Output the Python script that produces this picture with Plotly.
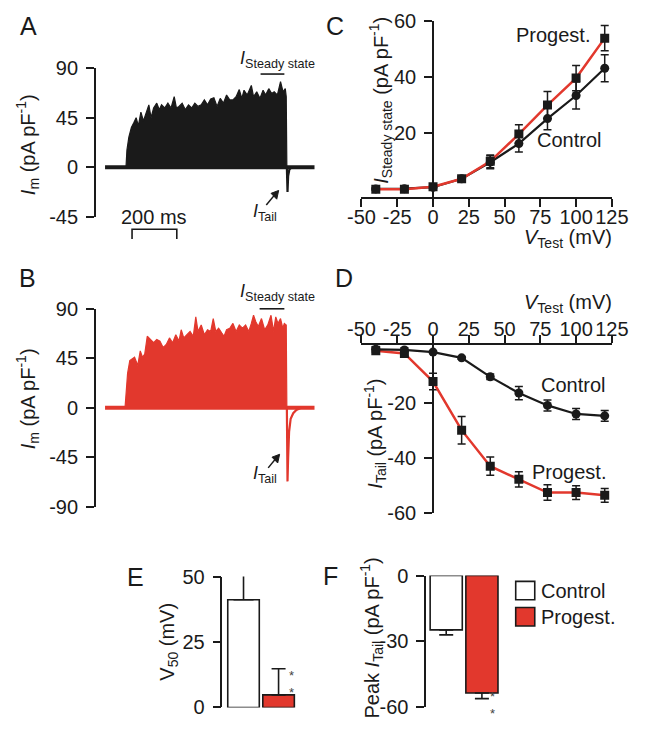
import plotly.graph_objects as go

W, H = 646, 733
RED = '#e2382d'
INK = '#1a1a1a'
FONT = 'Liberation Sans, Arial, sans-serif'

# ---------------- data ----------------
# Panel A (control) current trace: upper envelope of the superimposed sweeps (ms, pA/pF)
a_t = [93.6, 97.8, 106.4, 117.7, 129.0, 139.0, 148.9, 160.2, 171.6, 181.5, 195.7, 205.6, 217.0,
       231.1, 242.5, 252.4, 266.6, 280.8, 294.9, 309.1, 319.1, 330.4, 344.6, 358.8, 373.0, 387.1,
       401.3, 415.5, 429.7, 443.8, 458.0, 472.2, 486.4, 500.6, 514.7, 528.9, 543.1, 557.3, 571.5,
       585.6, 599.8, 611.2, 621.1, 635.3, 653.7, 663.6, 677.8, 692.0, 706.2, 717.5, 731.7, 744.5,
       755.8, 770.0, 784.2, 795.5, 805.4, 809.7, 812.5]
a_env = [0, 15.6, 27.3, 36.2, 40.6, 45.0, 37.6, 50.0, 42.0, 47.9, 56.7, 45.0, 53.8,
         58.2, 52.3, 56.7, 53.8, 58.2, 53.8, 64.1, 53.8, 55.3, 58.2, 52.3, 56.7, 53.8,
         58.2, 55.3, 56.7, 61.2, 56.7, 62.0, 63.2, 55.3, 62.6, 58.2, 65.6, 61.2, 61.2,
         64.1, 70.6, 62.6, 70.0, 65.6, 74.4, 64.1, 68.5, 62.6, 70.0, 65.6, 71.4, 67.0,
         68.5, 65.6, 77.9, 68.5, 71.4, 64.1, 0]
a_tail_t = [812.5, 815.4, 818.2, 823.9, 833.8]
a_tail_v = [0, -22.6, -8.0, -2.0, 0]

# Panel B (progesterone) current trace envelope
b_t = [89.3, 93.6, 100.7, 110.6, 120.5, 131.9, 146.1, 157.4, 167.3, 177.3, 188.6, 202.8, 217.0,
       231.1, 245.3, 259.5, 273.7, 287.9, 302.0, 316.2, 330.4, 340.3, 351.7, 365.8, 380.0, 394.2,
       405.5, 415.5, 429.7, 443.8, 458.0, 472.2, 483.5, 494.9, 507.6, 521.8, 531.7, 543.1, 557.3,
       571.5, 585.6, 599.8, 614.0, 628.2, 642.3, 653.7, 663.6, 673.6, 684.9, 699.1, 713.3, 727.4,
       741.6, 753.0, 762.9, 772.8, 784.2, 794.1, 801.2, 809.7, 812.5]
b_env = [0, 16.5, 31.2, 42.9, 44.4, 45.9, 38.5, 51.7, 45.9, 48.8, 65.0, 62.0, 59.1,
         62.0, 60.6, 54.7, 57.6, 63.5, 59.1, 66.4, 60.6, 70.9, 63.5, 66.4, 69.4, 65.0,
         82.6, 69.4, 75.3, 66.4, 70.9, 69.4, 81.1, 69.4, 72.3, 67.9, 65.0, 70.9, 72.3,
         76.7, 69.4, 75.3, 72.3, 75.3, 69.4, 76.7, 84.1, 78.2, 73.8, 81.1, 70.9, 75.3,
         84.1, 69.4, 82.6, 76.7, 81.1, 72.3, 76.7, 75.3, 0]
b_tail_t = [812.5, 815.4, 818.2, 822.4, 829.5, 840.9, 855.0, 876.3]
b_tail_v = [0, -67.0, -45.0, -22.0, -10.0, -5.0, -2.0, 0]
sweep_end_ms = 936

# Panels C and D
v_test = [-40, -20, 0, 20, 40, 60, 80, 100, 120]
c_ctrl = [0.2, 0.3, 0.8, 3.8, 9.7, 16.3, 25.2, 33.4, 43.1]
c_ctrl_se = [0.3, 0.3, 0.4, 0.8, 2.3, 3.0, 4.0, 4.8, 4.8]
c_prog = [0.1, 0.1, 1.0, 3.8, 10.0, 19.7, 30.0, 39.6, 53.8]
c_prog_se = [0.3, 0.3, 0.5, 0.8, 2.3, 3.3, 4.8, 4.5, 4.5]

d_ctrl = [-0.3, -0.5, -1.3, -3.4, -10.3, -16.2, -20.7, -23.8, -24.5]
d_ctrl_se = [1.0, 0.8, 0.5, 0.5, 1.0, 2.4, 2.0, 2.0, 2.0]
d_prog = [-0.8, -1.8, -12.0, -29.7, -42.8, -47.6, -52.4, -52.4, -53.4]
d_prog_se = [0.5, 1.0, 3.0, 5.0, 3.3, 2.8, 2.8, 2.5, 2.5]

# Panels E and F
groups = ['Control', 'Progest.']
v50 = [41.1, 4.8]
v50_se = [12.6, 10.0]
peak_tail = [-24.7, -53.4]
peak_tail_se = [2.3, 2.6]

# tick values
ab_ticks_a = [-45, 0, 45, 90]
ab_ticks_b = [-90, -45, 0, 45, 90]
v_ticks = [-50, -25, 0, 25, 50, 75, 100, 125]
c_ticks = [20, 40, 60]
d_ticks = [-60, -40, -20]
e_ticks = [0, 25, 50]
f_ticks = [-60, -30, 0]


# ---------------- helpers ----------------
def px(x):
    return x / W


def py(y):
    return 1 - y / H


def lab(vals):
    return [str(v) for v in vals]  # plain hyphen-minus like the original


annotations = []
shapes = []


def ann(x, y, text, size=20, xanchor='center', yanchor='middle', angle=0, color=INK):
    annotations.append(dict(x=px(x), y=py(y), xref='paper', yref='paper', text=text,
                            showarrow=False, xanchor=xanchor, yanchor=yanchor, borderpad=0,
                            textangle=angle, font=dict(family=FONT, size=size, color=color)))


def hline(x0, x1, y, width=1.6):
    shapes.append(dict(type='line', xref='paper', yref='paper', x0=px(x0), x1=px(x1),
                       y0=py(y), y1=py(y), line=dict(color=INK, width=width)))


fig = go.Figure()

# ---------------- traces A & B ----------------
for xa, ya, t, env, tt, tv, col in [('x', 'y', a_t, a_env, a_tail_t, a_tail_v, INK),
                                    ('x2', 'y2', b_t, b_env, b_tail_t, b_tail_v, RED)]:
    fig.add_trace(go.Scatter(x=[0, sweep_end_ms], y=[0, 0], mode='lines', xaxis=xa, yaxis=ya,
                             line=dict(color=col, width=4), hoverinfo='skip'))
    fig.add_trace(go.Scatter(x=t, y=env, mode='lines', fill='tozeroy', fillcolor=col,
                             xaxis=xa, yaxis=ya, line=dict(color=col, width=1.2), hoverinfo='skip'))
    fig.add_trace(go.Scatter(x=tt, y=tv, mode='lines', xaxis=xa, yaxis=ya,
                             line=dict(color=col, width=2.2), hoverinfo='skip'))

# ---------------- C ----------------
fig.add_trace(go.Scatter(x=v_test, y=c_ctrl, mode='lines+markers', xaxis='x3', yaxis='y3',
                         line=dict(color=INK, width=2.2),
                         marker=dict(symbol='circle', size=9, color=INK),
                         error_y=dict(type='data', array=c_ctrl_se, color=INK, thickness=1.5, width=4)))
fig.add_trace(go.Scatter(x=v_test, y=c_prog, mode='lines+markers', xaxis='x3', yaxis='y3',
                         line=dict(color=RED, width=2.5),
                         marker=dict(symbol='square', size=9, color=INK),
                         error_y=dict(type='data', array=c_prog_se, color=INK, thickness=1.5, width=4)))

# ---------------- D ----------------
fig.add_trace(go.Scatter(x=v_test, y=d_prog, mode='lines+markers', xaxis='x4', yaxis='y4',
                         line=dict(color=RED, width=2.5),
                         marker=dict(symbol='square', size=9, color=INK),
                         error_y=dict(type='data', array=d_prog_se, color=INK, thickness=1.5, width=4)))
fig.add_trace(go.Scatter(x=v_test, y=d_ctrl, mode='lines+markers', xaxis='x4', yaxis='y4',
                         line=dict(color=INK, width=2.2),
                         marker=dict(symbol='circle', size=9, color=INK),
                         error_y=dict(type='data', array=d_ctrl_se, color=INK, thickness=1.5, width=4)))

# ---------------- E & F bars ----------------
bar_fill = ['white', RED]
cap_w = [10, 7]
for i in range(2):
    fig.add_trace(go.Bar(x=[i], y=[v50[i]], xaxis='x5', yaxis='y5', width=0.9,
                         marker=dict(color=bar_fill[i], line=dict(color=INK, width=1.6)),
                         error_y=dict(type='data', array=[v50_se[i]], arrayminus=[0], symmetric=False,
                                      color=INK, thickness=1.6, width=cap_w[i])))
    fig.add_trace(go.Bar(x=[i], y=[peak_tail[i]], xaxis='x6', yaxis='y6', width=0.9,
                         marker=dict(color=bar_fill[i], line=dict(color=INK, width=1.6)),
                         error_y=dict(type='data', array=[0], arrayminus=[peak_tail_se[i]], symmetric=False,
                                      color=INK, thickness=1.6, width=7)))

# ---------------- axes ----------------
tickfont = dict(family=FONT, size=20, color=INK)
common_y = dict(showline=True, linecolor=INK, linewidth=1.6, ticks='outside', ticklen=8,
                tickwidth=1.6, tickcolor=INK, tickfont=tickfont, showgrid=False, zeroline=False,
                ticklabelstandoff=4, tickmode='array')
hidden_x = dict(visible=False, showgrid=False, zeroline=False)

# A / B : time axis hidden
t_range = [-41, 946]
lay = dict(
    xaxis=dict(domain=[px(86), px(318)], range=t_range, anchor='y', **hidden_x),
    yaxis=dict(domain=[py(212), py(59)], range=[-45, 90], tickvals=ab_ticks_a, ticktext=lab(ab_ticks_a),
               anchor='x', **common_y),
    xaxis2=dict(domain=[px(86), px(318)], range=t_range, anchor='y2', **hidden_x),
    yaxis2=dict(domain=[py(511), py(307)], range=[-90, 90], tickvals=ab_ticks_b, ticktext=lab(ab_ticks_b),
                anchor='x2', **common_y),
)

# C / D voltage axes
v_range = [-50, 125]
vx0, vx1 = 365, 628
zero_pos = px(vx0 + (0 - v_range[0]) / (v_range[1] - v_range[0]) * (vx1 - vx0))
common_x = dict(showline=True, linecolor=INK, linewidth=1.6, ticks='outside', ticklen=8,
                tickwidth=1.6, tickcolor=INK, tickfont=tickfont, showgrid=False, zeroline=False,
                range=v_range, tickmode='array', tickvals=v_ticks, ticktext=lab(v_ticks),
                tickangle=0)
lay.update(
    xaxis3=dict(domain=[px(vx0), px(vx1)], anchor='y3', ticklabelstandoff=-7, **common_x),
    yaxis3=dict(domain=[py(192), py(10)], range=[-2.76, 60], tickvals=c_ticks, ticktext=lab(c_ticks),
                anchor='free', position=zero_pos, **common_y),
    xaxis4=dict(domain=[px(vx0), px(vx1)], anchor='y4', side='top', ticklabelstandoff=-9, **common_x),
    yaxis4=dict(domain=[py(518), py(344)], range=[-60, 1.4], tickvals=d_ticks, ticktext=lab(d_ticks),
                anchor='free', position=zero_pos, **common_y),
)

# E / F bar axes
lay.update(
    xaxis5=dict(domain=[px(219), px(300)], range=[-0.6, 1.6], anchor='y5', **hidden_x),
    yaxis5=dict(domain=[py(718), py(583)], range=[0, 50], tickvals=e_ticks, ticktext=lab(e_ticks),
                anchor='x5', **common_y),
    xaxis6=dict(domain=[px(433), px(514)], range=[-0.56, 1.6], anchor='y6', **hidden_x),
    yaxis6=dict(domain=[py(718), py(582)], range=[-60, 0], tickvals=f_ticks, ticktext=lab(f_ticks),
                anchor='x6', **common_y),
)

# ---------------- text & decorations ----------------
for (x, y, s) in [(15, 15, 'A'), (14, 275, 'B'), (337, 15, 'C'), (347, 275, 'D'), (128, 583, 'E'), (332, 582, 'F')]:
    ann(x, y, s, size=25)

ann(15, 138, '<i>I</i><sub>m</sub> (pA pF<sup>-1</sup>)', angle=-90)
ann(15, 400, '<i>I</i><sub>m</sub> (pA pF<sup>-1</sup>)', angle=-90)

ann(236, 50, '<i>I</i><sub>Steady state</sub>', size=18, xanchor='left')
hline(259, 284, 65)
ann(236, 290, '<i>I</i><sub>Steady state</sub>', size=18, xanchor='left')
hline(258, 284, 307)

ann(250, 208, '<i>I</i><sub>Tail</sub>', size=18, xanchor='left')
ann(250, 478, '<i>I</i><sub>Tail</sub>', size=18, xanchor='left')
# arrows (line + filled head)
for (hx, hy, tx, ty) in [(278, 185, 265, 200), (279, 457, 267, 471)]:
    shapes.append(dict(type='line', xref='paper', yref='paper', x0=px(tx), y0=py(ty), x1=px(hx - 2), y1=py(hy + 2),
                       line=dict(color=INK, width=1.5)))
    shapes.append(dict(type='path', xref='paper', yref='paper',
                       path='M {},{} L {},{} L {},{} Z'.format(px(hx), py(hy), px(hx - 8), py(hy + 3),
                                                               px(hx - 2), py(hy + 9)),
                       fillcolor=INK, line=dict(color=INK, width=1)))

# scale bar (200 ms) in panel A
ann(147, 212, '200 ms', size=20)
shapes.append(dict(type='path', xref='paper', yref='paper',
                   path='M {0},{1} L {0},{2} L {3},{2} L {3},{1}'.format(px(124), py(235), py(225), px(171)),
                   line=dict(color=INK, width=1.6)))

# C labels
ann(385, 92, '<i>I</i><sub>Steady state</sub> (pA pF<sup>-1</sup>)', angle=-90)
ann(582, 235, '<i>V</i><sub>Test</sub> (mV)')
ann(566, 25, 'Progest.')
ann(583, 133, 'Control')

# D labels
ann(582, 302, '<i>V</i><sub>Test</sub> (mV)')
ann(380, 436, '<i>I</i><sub>Tail</sub> (pA pF<sup>-1</sup>)', angle=-90)
ann(587, 386, 'Control')
ann(583, 475, 'Progest.')

# E labels
ann(162, 650, 'V<sub>50</sub> (mV)', angle=-90)
ann(291, 694, '*<br>*', size=13, color='#444444')

# F labels
ann(376, 646, 'Peak <i>I</i><sub>Tail</sub> (pA pF<sup>-1</sup>)', angle=-90)
ann(503, 715, '*<br>*', size=13, color='#444444')

# legend
shapes.append(dict(type='rect', xref='paper', yref='paper', x0=px(527), x1=px(547), y0=py(607), y1=py(588),
                   fillcolor='white', line=dict(color=INK, width=1.6)))
shapes.append(dict(type='rect', xref='paper', yref='paper', x0=px(527), x1=px(547), y0=py(634), y1=py(615),
                   fillcolor=RED, line=dict(color=INK, width=1.6)))
ann(553, 598, 'Control', xanchor='left')
ann(553, 625, 'Progest.', xanchor='left')

fig.update_layout(width=W, height=H, margin=dict(l=0, r=0, t=0, b=0), showlegend=False,
                  paper_bgcolor='white', plot_bgcolor='rgba(0,0,0,0)', barmode='overlay',
                  annotations=annotations, shapes=shapes, font=dict(family=FONT, color=INK), **lay)

fig.write_html('out.html', config={'displayModeBar': False, 'responsive': False},
               post_script=("document.documentElement.style.overflow='hidden';"
                            "document.body.style.margin='0';document.body.style.overflow='hidden';"))
